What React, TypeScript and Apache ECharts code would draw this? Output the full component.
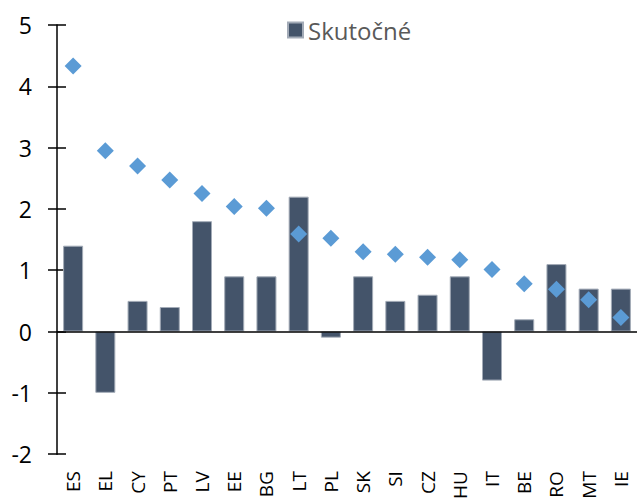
import React, { useEffect, useRef } from "react";
import * as echarts from "echarts";

const categories = ["ES", "EL", "CY", "PT", "LV", "EE", "BG", "LT", "PL", "SK", "SI", "CZ", "HU", "IT", "BE", "RO", "MT", "IE"];
const actualValues = [1.4, -1.0, 0.5, 0.4, 1.8, 0.9, 0.9, 2.2, -0.1, 0.9, 0.5, 0.6, 0.9, -0.8, 0.2, 1.1, 0.7, 0.7];
const diamondValues = [4.33, 2.95, 2.7, 2.47, 2.25, 2.04, 2.01, 1.59, 1.52, 1.3, 1.26, 1.21, 1.17, 1.01, 0.78, 0.69, 0.52, 0.23];
const yTicks = { min: -2, max: 5, interval: 1 };
const seriesName = "Skutočné";

export default function App() {
  const ref = useRef<HTMLDivElement>(null);
  useEffect(() => {
    if (!ref.current) return;
    const chart = echarts.init(ref.current, null, { renderer: "svg" });
    const font = "'Open Sans', 'Noto Sans', sans-serif";
    chart.setOption({
      animation: false,
      backgroundColor: "#ffffff",
      grid: { left: 57, top: 25, bottom: 47, right: -5, containLabel: false },
      legend: {
        data: [seriesName],
        left: 282,
        top: 13,
        icon: "rect",
        itemWidth: 15,
        itemHeight: 15,
        itemGap: 6,
        textStyle: { fontFamily: font, fontSize: 24, color: "#595959" },
      },
      xAxis: {
        type: "category",
        data: categories,
        position: "bottom",
        axisLine: { show: false },
        axisTick: { show: false },
        axisLabel: { rotate: 90, margin: 17, fontFamily: font, fontSize: 19, color: "#000000", interval: 0 },
      },
      yAxis: [
        {
          type: "value",
          min: yTicks.min,
          max: yTicks.max,
          interval: yTicks.interval,
          position: "left",
          axisLine: { show: true, lineStyle: { color: "#000000", width: 1.5 } },
          axisTick: { show: true, length: 9, lineStyle: { color: "#000000", width: 1.5 } },
          axisLabel: { margin: 25, fontFamily: font, fontSize: 23, color: "#000000" },
          splitLine: { show: false },
        },
        {
          type: "value",
          min: yTicks.min,
          max: yTicks.max,
          interval: yTicks.interval,
          position: "left",
          axisLine: { show: false },
          axisTick: { show: true, inside: true, length: 9, lineStyle: { color: "#000000", width: 1.5 } },
          axisLabel: { show: false },
          splitLine: { show: false },
        },
      ],
      series: [
        {
          name: seriesName,
          type: "bar",
          data: actualValues,
          barWidth: 20,
          itemStyle: { color: "#44546A", borderColor: "#a3abb7", borderWidth: 1 },
          markLine: {
            silent: true,
            symbol: "none",
            label: { show: false },
            lineStyle: { color: "#000000", width: 1.5, type: "solid" },
            data: [{ yAxis: 0 }],
          },
          z: 2,
        },
        {
          name: "diamonds",
          type: "scatter",
          data: diamondValues,
          symbol: "diamond",
          symbolSize: 17,
          itemStyle: { color: "#5B9BD5", opacity: 1 },
          z: 3,
        },
      ],
    });
    return () => chart.dispose();
  }, []);
  return (
    <div
      ref={ref}
      style={{ position: "fixed", left: 0, top: 0, width: 637, height: 502 }}
    />
  );
}
